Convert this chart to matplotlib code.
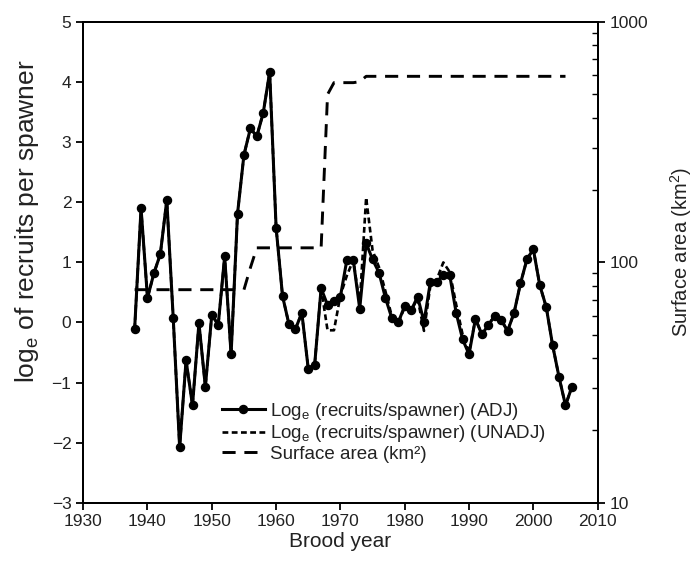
import matplotlib
matplotlib.use("Agg")
import matplotlib.pyplot as plt
import numpy as np

plt.rcParams['font.family'] = ['Liberation Sans', 'DejaVu Sans']

years = list(range(1938, 2007))
adj = [-0.11, 1.90, 0.41, 0.82, 1.14, 2.04, 0.08, -2.08, -0.63, -1.38,
       -0.01, -1.07, 0.13, -0.04, 1.10, -0.53, 1.81, 2.79, 3.23, 3.10,
       3.49, 4.17, 1.58, 0.44, -0.03, -0.11, 0.16, -0.77, -0.70, 0.57,
       0.29, 0.35, 0.43, 1.04, 1.04, 0.23, 1.32, 1.05, 0.83, 0.41,
       0.07, 0.00, 0.28, 0.20, 0.43, 0.01, 0.68, 0.68, 0.79, 0.79,
       0.16, -0.28, -0.53, 0.06, -0.20, -0.04, 0.11, 0.04, -0.14, 0.16,
       0.65, 1.05, 1.22, 0.62, 0.26, -0.38, -0.91, -1.38, -1.07]
unadj = [-0.11, 1.90, 0.41, 0.82, 1.14, 2.04, 0.08, -2.08, -0.63, -1.38,
         -0.01, -1.07, 0.13, -0.04, 1.10, -0.53, 1.81, 2.79, 3.23, 3.10,
         3.49, 4.17, 1.58, 0.44, -0.03, -0.11, 0.16, -0.77, -0.70, 0.57,
         -0.13, -0.13, 0.45, 0.78, 1.04, 0.30, 2.08, 1.20, 0.92, 0.52,
         0.10, 0.00, 0.25, 0.20, 0.40, -0.14, 0.62, 0.72, 1.00, 0.84,
         0.30, -0.20, -0.50, 0.06, -0.20, -0.04, 0.11, 0.04, -0.14, 0.16,
         0.65, 1.05, 1.22, 0.62, 0.26, -0.38, -0.91, -1.38, -1.07]

area_years = list(range(1938, 2006))
area = [77] * 18 + [95] + [115] * 11 + [500, 560, 560, 560, 560, 565] + [595] * 32

fig = plt.figure(figsize=(6.99, 5.68), dpi=100)
ax = fig.add_axes([0.119, 0.115, 0.736, 0.846])
ax2 = ax.twinx()

tc = '#222222'
l3, = ax2.plot(area_years, area, color='black', lw=2.1, dashes=(4.5, 3.0),
               label='Surface area (km²)', zorder=1)
l2, = ax.plot(years, unadj, color='black', lw=1.9, dashes=(2.2, 1.3),
              label='Log$_\\mathregular{e}$ (recruits/spawner) (UNADJ)', zorder=2)
l1, = ax.plot(years, adj, color='black', lw=2.2, marker='o', ms=5.8,
              label='Log$_\\mathregular{e}$ (recruits/spawner) (ADJ)', zorder=3)
ax.set_zorder(ax2.get_zorder() + 1)
ax.patch.set_visible(False)

ax.set_xlim(1930, 2010)
ax.set_ylim(-3, 5)
ax.set_xticks(range(1930, 2011, 10))
ax.set_yticks(range(-3, 6))
ax2.set_yscale('log')
ax2.set_ylim(10, 1000)
ax2.set_yticks([10, 100, 1000])
ax2.set_yticklabels(['10', '100', '1000'])

for a in (ax, ax2):
    for s in a.spines.values():
        s.set_linewidth(1.4)
ax.tick_params(axis='both', which='major', direction='out', length=5, width=1.3,
               labelsize=12.5, colors='black', labelcolor=tc)
ax2.tick_params(axis='y', which='major', direction='out', length=5, width=1.3,
                labelsize=12.5, labelcolor=tc)
ax2.tick_params(axis='y', which='minor', direction='in', length=4, width=1.0)
ax2.yaxis.set_minor_formatter(matplotlib.ticker.NullFormatter())

ax.set_xlabel('Brood year', fontsize=15, color=tc, labelpad=2)
ax.set_ylabel('log$_\\mathregular{e}$ of recruits per spawner', fontsize=19, color=tc)
ax.yaxis.set_label_coords(-0.082, 0.585)
ax2.set_ylabel('Surface area (km$^\\mathregular{2}$)', fontsize=14.5, color=tc)
ax2.yaxis.set_label_coords(1.136, 0.521)

leg = ax.legend(handles=[l1, l2, l3], loc='upper left', bbox_to_anchor=(0.255, 0.228),
                frameon=False, fontsize=13.5, handlelength=2.3, handletextpad=0.25,
                labelspacing=0.08, borderaxespad=0)
for t in leg.get_texts():
    t.set_color(tc)

fig.savefig('out.png', dpi=100)
